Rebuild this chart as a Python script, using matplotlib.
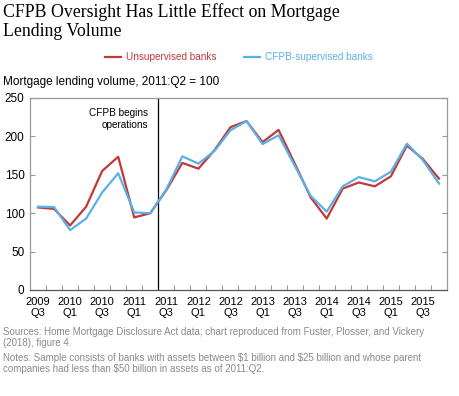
import matplotlib.pyplot as plt

# quarters 2009Q3 .. 2015Q4
quarters = ["2009 Q3", "2009 Q4", "2010 Q1", "2010 Q2", "2010 Q3", "2010 Q4",
            "2011 Q1", "2011 Q2", "2011 Q3", "2011 Q4", "2012 Q1", "2012 Q2",
            "2012 Q3", "2012 Q4", "2013 Q1", "2013 Q2", "2013 Q3", "2013 Q4",
            "2014 Q1", "2014 Q2", "2014 Q3", "2014 Q4", "2015 Q1", "2015 Q2",
            "2015 Q3", "2015 Q4"]
unsupervised = [107.5, 105.6, 84, 108.5, 155, 173.5, 94.5, 100, 130, 165.5,
                158, 182, 212, 220, 192.5, 208.5, 165, 120.5, 93, 132, 140,
                135, 148, 188, 170.5, 145]
supervised = [108.5, 108, 78, 93, 127, 152, 101, 100, 131, 174, 164.5, 181,
              208, 220, 190, 201.5, 162, 122.5, 102, 135, 147, 141.5, 154,
              190.5, 169, 138.5]
yticks = [0, 50, 100, 150, 200, 250]

red = '#C0393B'
blue = '#5AB1E6'

plt.rcParams['font.family'] = ['Liberation Sans', 'DejaVu Sans']

fig = plt.figure(figsize=(4.6, 3.96), dpi=100)
ax = fig.add_axes([30 / 460, 1 - 290 / 396, 417 / 460, 192 / 396])

x = list(range(len(quarters)))
ax.plot(x, unsupervised, color=red, lw=1.6, label='Unsupervised banks', zorder=3)
ax.plot(x, supervised, color=blue, lw=1.6, label='CFPB-supervised banks', zorder=3)

# CFPB start line between 2011Q2 and 2011Q3
ax.axvline(7.5, color='black', lw=0.9, zorder=2)
ax.text(6.86, 237, 'CFPB begins\noperations', ha='right', va='top',
        fontsize=7.2, linespacing=1.2)

ax.set_xlim(-0.5, len(quarters) - 0.5)
ax.set_ylim(0, 250)

# labels at every other quarter, ticks on category boundaries
major = x[::2]
ax.set_xticks(major)
ax.set_xticklabels([quarters[i].replace(' ', '\n') for i in major],
                   fontsize=8, linespacing=1.1)
ax.tick_params(axis='x', which='major', length=0, pad=5)
ax.set_xticks([i + 0.5 for i in x[:-1]], minor=True)
ax.tick_params(axis='x', which='minor', direction='in', length=3.5,
               color='#999999', width=0.8)

ax.set_yticks(yticks)
ax.tick_params(axis='y', direction='in', length=3.5, color='#999999',
               width=0.8, labelsize=8.5, pad=4, right=True)

for side in ['left', 'right', 'top']:
    ax.spines[side].set_color('#999999')
    ax.spines[side].set_linewidth(0.9)
ax.spines['bottom'].set_color('#555555')
ax.spines['bottom'].set_linewidth(0.9)

# legend above the plot
handles, labels = ax.get_legend_handles_labels()
leg = fig.legend(handles, labels, loc='center', bbox_to_anchor=(239 / 460, 1 - 57 / 396),
                 ncol=2, frameon=False, fontsize=7.2, handlelength=1.6,
                 handletextpad=0.5, columnspacing=2.7)
for t, c in zip(leg.get_texts(), [red, blue]):
    t.set_color(c)

fig.text(3 / 460, 1 - 3 / 396,
         'CFPB Oversight Has Little Effect on Mortgage\nLending Volume',
         ha='left', va='top', fontsize=12.8, family='Liberation Serif',
         linespacing=1.2)
fig.text(3 / 460, 1 - 82 / 396, 'Mortgage lending volume, 2011:Q2 = 100',
         ha='left', va='center', fontsize=8.5)

fig.text(3 / 460, 1 - 327 / 396,
         'Sources: Home Mortgage Disclosure Act data; chart reproduced from Fuster, Plosser, and Vickery\n(2018), figure 4.',
         ha='left', va='top', fontsize=7.0, color='#8a8a8a', linespacing=1.15)
fig.text(3 / 460, 1 - 353 / 396,
         'Notes: Sample consists of banks with assets between \\$1 billion and \\$25 billion and whose parent\ncompanies had less than \\$50 billion in assets as of 2011:Q2.',
         ha='left', va='top', fontsize=7.0, color='#8a8a8a', linespacing=1.15)

fig.savefig('out.png', dpi=100)
